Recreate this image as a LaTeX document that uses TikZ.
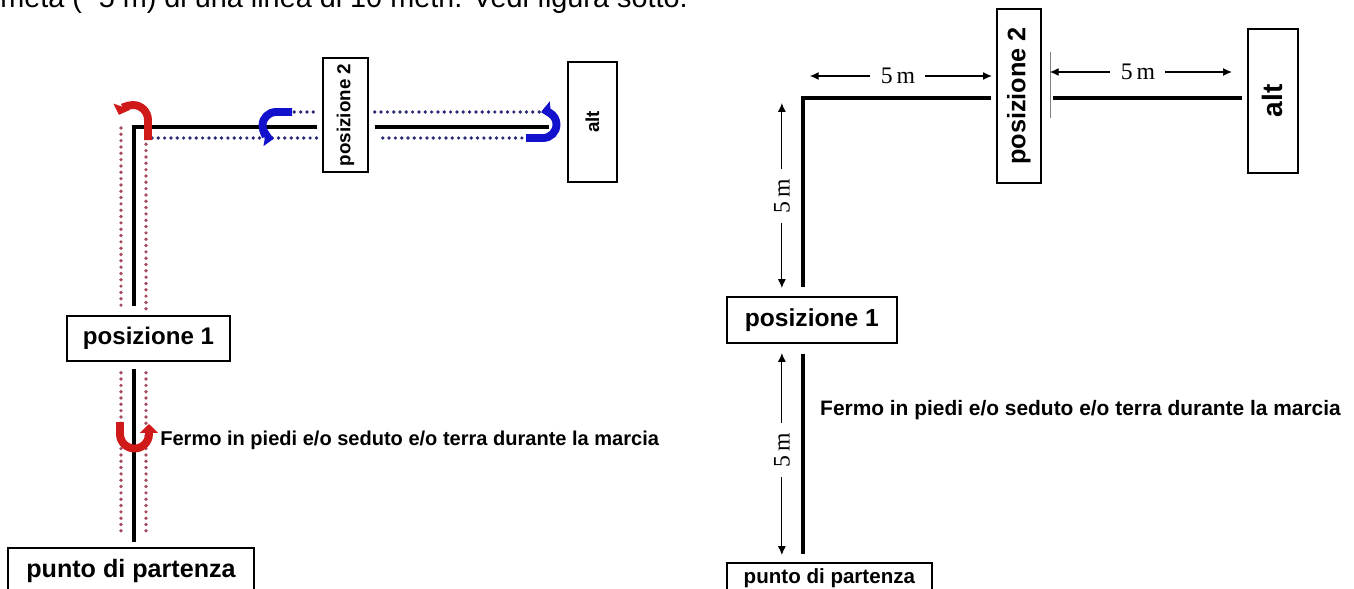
\documentclass[tikz,border=0pt]{standalone}
\usepackage{fontspec}
\setmainfont{Liberation Serif}
\setsansfont{Liberation Sans}
\usetikzlibrary{arrows.meta}

\definecolor{rosso}{RGB}{208,26,26}
\definecolor{blu}{RGB}{18,18,205}
\definecolor{puntirossi}{RGB}{165,75,95}
\definecolor{puntiblu}{RGB}{42,42,118}

\tikzset{
  casella/.style={draw, line width=0.8pt, fill=white, inner sep=0pt,
    font=\sffamily\bfseries\fontsize{#1}{#1}\selectfont},
  nota/.style={anchor=west, inner sep=0pt,
    font=\sffamily\bfseries\fontsize{#1}{#1}\selectfont},
  pista/.style={line width=2.4pt, line join=miter},
  puntini/.style={line width=2.1pt, line cap=round, dash pattern=on 0pt off 3.6pt},
  giro/.style={line width=4.5pt, -{Triangle[length=5pt,width=10pt]}},
  quota/.style={line width=0.6pt, -{Latex[length=5pt,width=4.5pt]}},
  misura/.style={font=\fontsize{13.5}{13.5}\selectfont, inner xsep=0.2cm, inner ysep=0pt},
}

\begin{document}
\begin{tikzpicture}[x=0.02cm, y=-0.02cm]
  \useasboundingbox (0,0) rectangle (1354,588);

  \node[anchor=base west, inner sep=0pt, font=\sffamily\fontsize{16.4}{18}\selectfont]
    (intro) at (0,8) {metà (\textasciitilde5 m) di una linea di 10 metri. Vedi figura sotto.};

  \coordinate (angoloA) at (134,127);
  \node[casella=13.7, minimum width=3.26cm, minimum height=0.9cm] (pos1A) at (148.5,338.5) {posizione 1};
  \node[casella=14.3, minimum width=4.92cm, minimum height=0.92cm] (partA) at (131,571) {punto di partenza};
  \node[casella=10.7, rotate=90, minimum width=2.28cm, minimum height=0.9cm] (pos2A) at (345.5,115) {posizione 2};
  \node[casella=10.7, rotate=90, minimum width=2.4cm, minimum height=0.98cm] (altA) at (592.5,122) {alt};

  \coordinate (rossoS) at (121,128);
  \coordinate (rossoD) at (146,138);
  \draw[puntini, puntirossi, shorten >=0.08cm] (rossoS) -- (rossoS |- pos1A.north);
  \draw[puntini, puntirossi, shorten >=0.08cm] (rossoD) -- (rossoD |- pos1A.north);
  \draw[puntini, puntirossi, shorten <=0.22cm, shorten >=0.32cm] (rossoS |- pos1A.south) -- (rossoS |- partA.north);
  \draw[puntini, puntirossi, shorten <=0.22cm, shorten >=0.32cm] (rossoD |- pos1A.south) -- (rossoD |- partA.north);

  \coordinate (bluSu) at (288,112);
  \coordinate (bluGiu) at (152,138);
  \draw[puntini, puntiblu, shorten >=0.1cm] (bluSu) -- (bluSu -| pos2A.north);
  \draw[puntini, puntiblu, shorten >=0.1cm] (bluGiu) -- (bluGiu -| pos2A.north);
  \draw[puntini, puntiblu, shorten <=0.12cm, shorten >=0.56cm] (bluSu -| pos2A.south) -- (bluSu -| altA.north);
  \draw[puntini, puntiblu, shorten <=0.28cm, shorten >=0.76cm] (bluGiu -| pos2A.south) -- (bluGiu -| altA.north);

  \draw[pista, shorten <=0.1cm, shorten >=0.18cm] (angoloA -| pos2A.north) -- (angoloA) -- (angoloA |- pos1A.north);
  \draw[pista, shorten <=0.12cm, shorten >=0.36cm] (angoloA -| pos2A.south) -- (angoloA -| altA.north);
  \draw[pista, shorten <=0.14cm, shorten >=0.1cm] (angoloA |- pos1A.south) -- (angoloA |- partA.north);

  \draw[giro, rosso] (148,140) -- (148,120) arc[start angle=0, end angle=160, radius=0.3cm];
  \draw[giro, rosso] (120,422) -- (120,434) arc[start angle=180, end angle=360, radius=0.29cm] -- (149,424);
  \draw[giro, blu] (292,112) -- (276,112) arc[start angle=90, end angle=260, radius=0.27cm];
  \draw[giro, blu] (526,138) -- (543,138) arc[start angle=-90, end angle=95, radius=0.27cm];

  \node[nota=11.4] (fermoA) at (160,440) {Fermo in piedi e/o seduto e/o terra durante la marcia};

\begin{scope}[xshift=13.38cm]

  \coordinate (angoloB) at (134,98);
  \node[casella=14, minimum width=3.4cm, minimum height=0.92cm] (pos1B) at (143,320) {posizione 1};
  \node[casella=11.7, minimum width=4.1cm, minimum height=0.6cm] (partB) at (160.5,578) {punto di partenza};
  \node[casella=14.4, rotate=90, minimum width=3.48cm, minimum height=0.88cm] (pos2B) at (350,96) {posizione 2};
  \node[casella=16, rotate=90, minimum width=2.88cm, minimum height=1cm] (altB) at (604,101) {alt};

  \draw[pista, shorten <=0.1cm, shorten >=0.18cm] (angoloB -| pos2B.north) -- (angoloB) -- (angoloB |- pos1B.north);
  \draw[pista, shorten <=0.22cm, shorten >=0.1cm] (angoloB -| pos2B.south) -- (angoloB -| altB.north);
  \draw[pista, shorten <=0.2cm, shorten >=0.16cm] (angoloB |- pos1B.south) -- (angoloB |- partB.north);

  \coordinate (taccaSu) at (381,52);
  \coordinate (taccaGiu) at (381,118);
  \draw[line width=0.4pt, gray] (taccaSu) -- (taccaGiu);

  \coordinate (q1s) at (141,76);  \coordinate (q1d) at (323,76);
  \node[misura] (m1) at (229,76) {5\,m};
  \draw[quota] (m1) -- (q1s);
  \draw[quota] (m1) -- (q1d);

  \coordinate (q2s) at (381,72);  \coordinate (q2d) at (563,72);
  \node[misura] (m2) at (469,72) {5\,m};
  \draw[quota] (m2) -- (q2s);
  \draw[quota] (m2) -- (q2d);

  \coordinate (q3a) at (113,103);  \coordinate (q3b) at (113,288);
  \node[misura, rotate=90] (m3) at (113,196) {5\,m};
  \draw[quota] (m3) -- (q3a);
  \draw[quota] (m3) -- (q3b);

  \coordinate (q4a) at (113,353);  \coordinate (q4b) at (113,555);
  \node[misura, rotate=90] (m4) at (113,450) {5\,m};
  \draw[quota] (m4) -- (q4a);
  \draw[quota] (m4) -- (q4b);

  \node[nota=11.9] (fermoB) at (151,410) {Fermo in piedi e/o seduto e/o terra durante la marcia};

\end{scope}
\end{tikzpicture}
\end{document}
